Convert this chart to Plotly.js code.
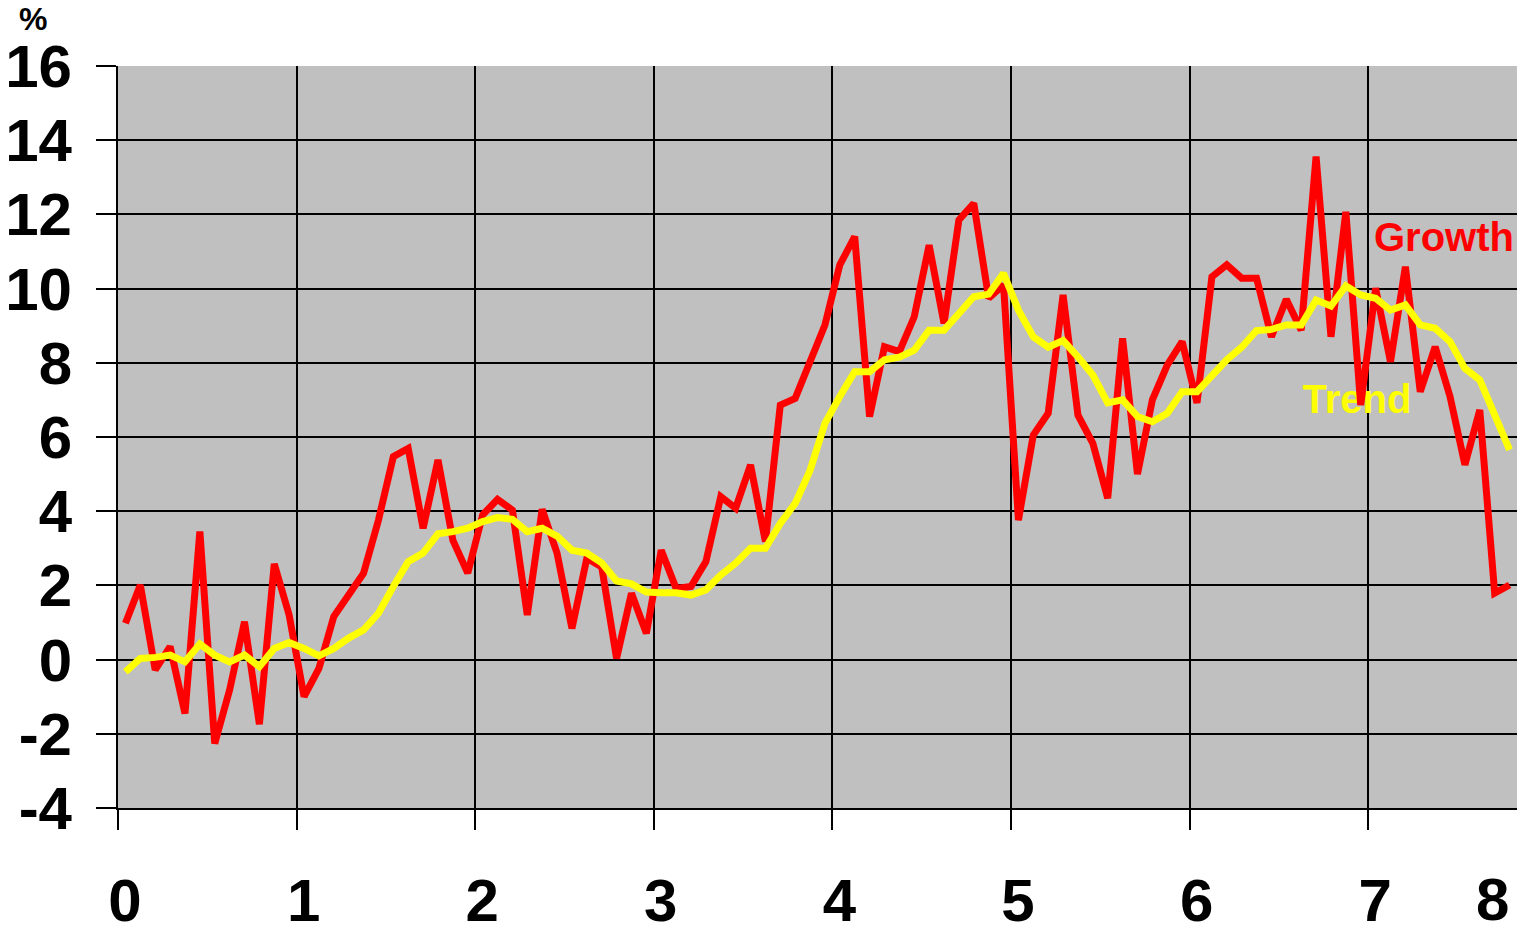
<!DOCTYPE html>
<html>
<head>
<meta charset="utf-8">
<script src="https://cdn.plot.ly/plotly-3.0.1.min.js"></script>
<style>
html,body{margin:0;padding:0;background:#fff;}
#chart{width:1518px;height:926px;}
</style>
</head>
<body>
<div id="chart"></div>
<script>
// Monthly observations; 12 per unit on the x axis
const growth = [
  0.98, 2.01, -0.28, 0.35, -1.45, 3.45, -2.26, -0.82, 1.02, -1.74, 2.58, 1.2,
  -1.0, -0.24, 1.16, 1.75, 2.33, 3.76, 5.47, 5.69, 3.54, 5.38, 3.22, 2.33,
  3.9, 4.32, 4.03, 1.2, 4.05, 2.87, 0.84, 2.73, 2.5, 0.03, 1.79, 0.71,
  2.95, 1.92, 1.97, 2.64, 4.39, 4.08, 5.25, 3.18, 6.86, 7.04, 7.99, 9.02,
  10.64, 11.4, 6.55, 8.43, 8.3, 9.24, 11.17, 9.06, 11.85, 12.3, 9.74, 10.1,
  3.76, 6.05, 6.64, 9.83, 6.59, 5.83, 4.35, 8.66, 5.0, 7.0, 7.94, 8.57,
  6.92, 10.32, 10.64, 10.28, 10.28, 8.7, 9.71, 8.88, 13.56, 8.7, 12.07, 6.86,
  10.01, 8.03, 10.59, 7.22, 8.43, 7.09, 5.25, 6.73, 1.79, 2.01
];
const trend = [
  -0.33, 0.03, 0.06, 0.12, -0.06, 0.42, 0.12, -0.06, 0.12, -0.19, 0.30, 0.46,
  0.30, 0.10, 0.30, 0.58, 0.8, 1.25, 1.97, 2.64, 2.87, 3.39, 3.45, 3.54,
  3.72, 3.83, 3.78, 3.45, 3.54, 3.33, 2.95, 2.87, 2.61, 2.12, 2.04, 1.82,
  1.8, 1.8, 1.74, 1.88, 2.28, 2.6, 3.0, 3.0, 3.67, 4.21, 5.1, 6.37,
  7.09, 7.76, 7.76, 8.08, 8.15, 8.34, 8.88, 8.88, 9.33, 9.78, 9.85, 10.41,
  9.42, 8.7, 8.42, 8.6, 8.16, 7.67, 6.92, 7.0, 6.55, 6.41, 6.64, 7.22,
  7.22, 7.67, 8.08, 8.42, 8.87, 8.9, 9.02, 9.02, 9.69, 9.53, 10.07, 9.83,
  9.74, 9.42, 9.56, 9.02, 8.93, 8.57, 7.85, 7.54, 6.64, 5.65
];
const perUnit = 12;
const xTickVals = [0, 1, 2, 3, 4, 5, 6, 7];
const xTickText = ['0', '1', '2', '3', '4', '5', '6', '7'];
const lastXLabel = '8';
const yTickVals = [-4, -2, 0, 2, 4, 6, 8, 10, 12, 14, 16];
const yTickText = ['-4', '-2', '0', '2', '4', '6', '8', '10', '12', '14', '16'];
const seriesNames = ['Growth', 'Trend'];
const unitLabel = '%';

const xs = growth.map((_, i) => (i + 0.5) / perUnit);
const xEnd = growth.length / perUnit;

const FONT = 'Liberation Sans, Arial, sans-serif';

const traces = [
  {
    x: [6.937], y: [6.91], mode: 'text', text: ['<b>' + seriesNames[1] + '</b>'],
    textposition: 'middle center', showlegend: false, hoverinfo: 'skip',
    textfont: {family: FONT, size: 40, color: '#FFFF00', weight: 700}
  },
  {
    x: xs, y: growth, mode: 'lines', name: seriesNames[0],
    line: {color: '#FF0000', width: 7}
  },
  {
    x: xs, y: trend, mode: 'lines', name: seriesNames[1],
    line: {color: '#FFFF00', width: 7}
  }
];

const layout = {
  width: 1518, height: 926,
  margin: {l: 118, r: 1, t: 66, b: 118, pad: 0},
  paper_bgcolor: '#FFFFFF',
  plot_bgcolor: '#C0C0C0',
  showlegend: false,
  font: {family: FONT, color: '#000'},
  xaxis: {
    range: [0, xEnd], tickmode: 'array', tickvals: xTickVals, ticktext: xTickText,
    showgrid: true, gridcolor: '#000', gridwidth: 2,
    zeroline: false, showline: true, linecolor: '#000', linewidth: 2,
    ticks: 'outside', ticklen: 20, tickwidth: 2, tickcolor: '#000',
    tickfont: {family: FONT, size: 60, color: '#000', weight: 700},
    ticklabelstandoff: 19, ticklabelshift: 7, fixedrange: true
  },
  yaxis: {
    range: [-4, 16], tickmode: 'array', tickvals: yTickVals, ticktext: yTickText,
    showgrid: true, gridcolor: '#000', gridwidth: 2,
    zeroline: true, zerolinecolor: '#000', zerolinewidth: 2,
    showline: true, linecolor: '#000', linewidth: 2,
    ticks: 'outside', ticklen: 20, tickwidth: 2, tickcolor: '#000',
    tickfont: {family: FONT, size: 60, color: '#000', weight: 700},
    ticklabelstandoff: 12, fixedrange: true
  },
  annotations: [
    {
      text: '<b>' + unitLabel + '</b>', xref: 'paper', yref: 'paper',
      x: (33 - 118) / 1399, y: (808 - 19) / 742, xanchor: 'center', yanchor: 'middle',
      showarrow: false, font: {family: FONT, size: 32, color: '#000'}
    },
    {
      text: '<b>' + seriesNames[0] + '</b>', xref: 'x', yref: 'y',
      x: 7.425, y: 11.39, xanchor: 'center', yanchor: 'middle',
      showarrow: false, font: {family: FONT, size: 40, color: '#FF0000'}
    },
    {
      text: '<b>' + lastXLabel + '</b>', xref: 'x', yref: 'paper',
      x: (1493 - 118) / 178.6, y: (808 - 899) / 742, xanchor: 'center', yanchor: 'middle',
      showarrow: false, font: {family: FONT, size: 60, color: '#000'}
    }
  ]
};

Plotly.newPlot('chart', traces, layout, {displayModeBar: false, staticPlot: true});
</script>
</body>
</html>
